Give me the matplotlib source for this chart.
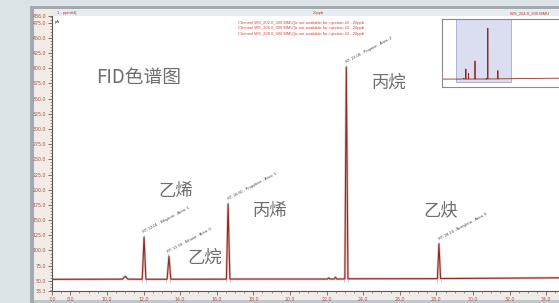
#!/usr/bin/python3
# -*- encoding: utf-8 -*-
# Cromatograma FID (captura de pantalla del software) con etiquetas en chino.

import matplotlib
matplotlib.use('Agg')
import matplotlib.pyplot as plt
from matplotlib.patches import Rectangle
from matplotlib.ticker import MultipleLocator, FixedLocator

W, H = 559, 303   # tamano de la figura en pixeles

# traza del detector: tiempo [min] y senal [pA]
t_min = [0.0, 7.0, 10.85, 11.0, 11.15, 11.9, 11.93, 12.03, 12.13, 13.26, 13.29,
         13.39, 13.49, 16.50, 16.53, 16.62, 16.72, 22.05, 22.12, 22.19, 22.42,
         22.49, 22.56, 22.98, 23.00, 23.08, 23.17, 28.04, 28.06, 28.14, 28.23,
         34.7, 45.0, 70.0]
signal = [52.5, 52.5, 52.8, 57.5, 52.8, 52.6, 53.0, 122.0, 52.7, 52.6, 53.0,
          90.5, 52.7, 52.8, 53.0, 176.5, 53.0, 53.0, 55.0, 53.0, 53.0, 56.0,
          53.0, 53.2, 53.5, 402.0, 53.4, 53.6, 54.0, 111.0, 53.8, 55.0, 57.0,
          60.0]

# picos identificados
peak_rt   = [12.01, 13.34, 16.61, 23.08, 28.14]
peak_top  = [122.0, 90.5, 176.5, 402.0, 111.0]
peak_name = ['Ethylene', 'Ethane', 'Propylene', 'Propane', 'Acetylene']
peak_area = [1, 0, 1, 2, 0]
peak_cn   = ['乙烯', '乙烷', '丙烯', '丙烷', '乙炔']
cn_pos    = [(176, 191), (205, 258), (270, 211), (389, 83), (441, 210)]  # px

warn_ch = ['WS_202.0_300 MMU', 'WS_206.0_300 MMU', 'WS_208.0_300 MMU']

XLIM = (7.0, 34.7)
YLIM = (33.3, 486.0)

def fx(x): return x / W
def fy(y): return 1 - y / H

def box(x0, y0, x1, y1, color, z=0):
    fig.add_artist(Rectangle((fx(x0), fy(y1)), fx(x1 - x0), (y1 - y0) / H,
                             transform=fig.transFigure, facecolor=color,
                             edgecolor='none', zorder=z))

fig = plt.figure(figsize=(W / 100, H / 100), dpi=100, facecolor='#dce3e6')

# marco de la ventana
box(30, 6, W, H, '#a3a9ac', -5)
box(34, 9, W, H, '#e9edef', -4)
box(36, 10, 52, 291, '#f3ebe6', -3)
box(52, 10, W, 16, '#e6ecf0', -3)
box(36, 291, W, 300, '#f1ece9', -3)
box(34, 300, W, H, '#c3c7c9', -3)

ax = fig.add_axes([fx(52), fy(291), fx(W - 52), (291 - 16) / H])
ax.plot(t_min, signal, color='#c98c86', lw=1.8, alpha=0.5)
ax.plot(t_min, signal, color='#8e2b22', lw=0.8)
ax.set_xlim(*XLIM)
ax.set_ylim(*YLIM)

for s in ['top', 'right']:
    ax.spines[s].set_visible(False)
for s in ['left', 'bottom']:
    ax.spines[s].set_color('#555555')
    ax.spines[s].set_linewidth(0.8)

ax.xaxis.set_major_locator(FixedLocator([7.0] + list(range(8, 35, 2))))
ax.xaxis.set_minor_locator(MultipleLocator(0.5))
ax.yaxis.set_major_locator(FixedLocator([YLIM[0]] + list(range(50, 476, 25)) + [YLIM[1]]))
ax.yaxis.set_minor_locator(MultipleLocator(5))
ax.xaxis.set_major_formatter(lambda v, p: '%.1f' % v)
ax.yaxis.set_major_formatter(lambda v, p: '%.1f' % v)
ax.tick_params(which='major', length=3, width=0.5, color='#444444',
               labelsize=3.4, labelcolor='#a0584c', pad=1)
ax.tick_params(which='minor', length=1.5, width=0.4, color='#555555')

# anotaciones de los picos
for rt, top, name, area in zip(peak_rt, peak_top, peak_name, peak_area):
    ax.plot([rt - 0.1, rt + 0.1], [49, 49], ls='none', marker='|', ms=2,
            mew=0.4, color='#7d8fb8')
    ax.plot(rt, top + 2, ls='none', marker='|', ms=2, mew=0.5, color='#8fa3cc')
    ax.annotate('RT: %.2f - %s - Area: %d' % (rt, name, area), xy=(rt, top),
                xytext=(0.5, 2), textcoords='offset points', rotation=28,
                rotation_mode='anchor', ha='left', va='bottom',
                fontsize=2.9, color='#444444', family='Liberation Sans')

# vista general (arriba a la derecha)
ins = fig.add_axes([fx(442), fy(87.3), 139 / W, (87.3 - 19.3) / H])
ins.plot(t_min, signal, color='#8e2b22', lw=0.6)
ins.set_xlim(0, 70)
ins.set_ylim(-4, 463)
ins.set_xticks([])
ins.set_yticks([])
for s in ins.spines.values():
    s.set_color('#8a8a8a')
    s.set_linewidth(0.8)
ins.add_patch(Rectangle((XLIM[0], 30), XLIM[1] - XLIM[0], 433,
                        facecolor='#d3d6ee', edgecolor='#9297c8', lw=0.6,
                        alpha=0.8, zorder=0))

# textos de la cabecera
small = dict(fontsize=3, family='Liberation Sans')
fig.text(fx(57), fy(13), '1 - ppm#4]', color='#c0392b', va='center', **small)
fig.text(fx(313), fy(13), '20ppb', color='#c0392b', va='center', **small)
fig.text(fx(510), fy(13), 'WS_264.0_300 MMU', color='#c0392b', va='center', **small)
fig.text(fx(55), fy(22), 'pA', color='#333333', va='center', **small)
for i, ch in enumerate(warn_ch):
    fig.text(fx(238), fy(22.7 + 5.7 * i),
             'Channel %s]is not available for injection #2 - 20ppb' % ch,
             color='#d9463a', va='center', **small)

# etiquetas en chino
cn = dict(family=['Noto Sans CJK SC', 'DejaVu Sans'], color='#6e6e6e',
          ha='center', va='center', weight='light')
fig.text(fx(139), fy(78), 'FID色谱图', fontsize=13.5, **cn)
for lab, (px, py) in zip(peak_cn, cn_pos):
    fig.text(fx(px), fy(py), lab, fontsize=12.5, **cn)

plt.savefig('out.png', dpi=100)
